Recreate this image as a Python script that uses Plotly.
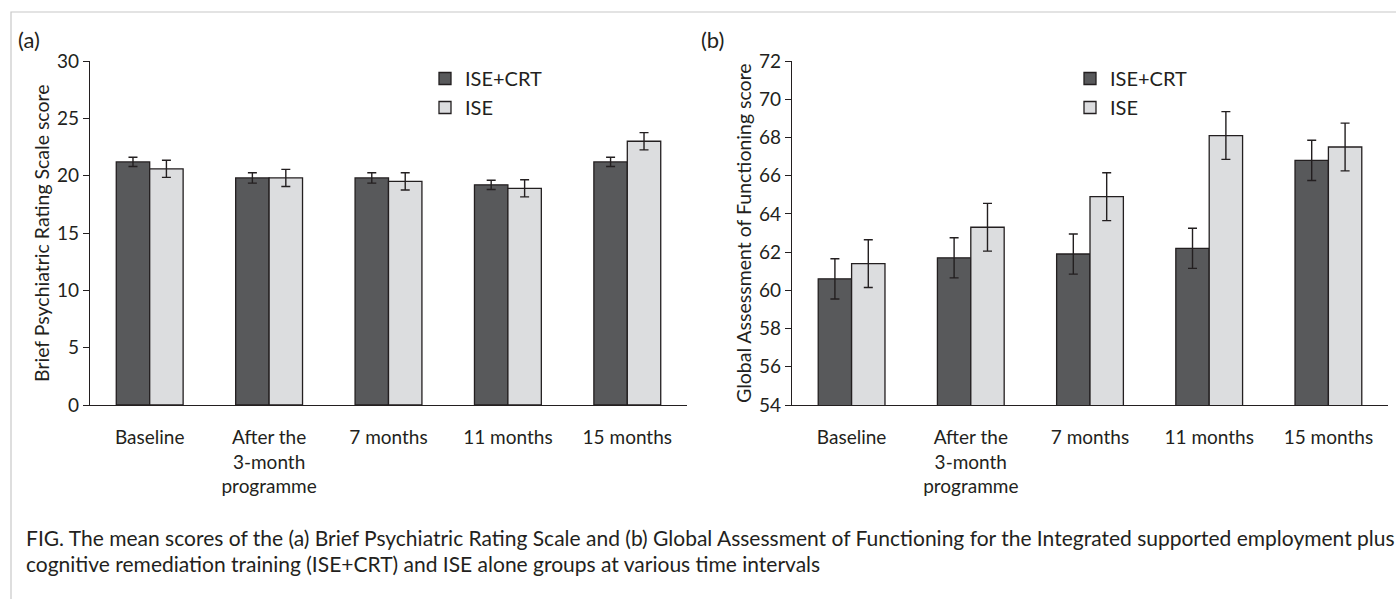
import plotly.graph_objects as go

W, H = 1396, 599

categories = ["Baseline", "After the<br>3-month<br>programme", "7 months", "11 months", "15 months"]

bprs_crt = [21.2, 19.8, 19.8, 19.2, 21.2]
bprs_crt_err = [0.4, 0.45, 0.45, 0.4, 0.4]
bprs_ise = [20.6, 19.8, 19.5, 18.9, 23.0]
bprs_ise_err = [0.75, 0.75, 0.75, 0.75, 0.75]

gaf_crt = [60.6, 61.7, 61.9, 62.2, 66.8]
gaf_crt_err = [1.05, 1.05, 1.05, 1.05, 1.05]
gaf_ise = [61.4, 63.3, 64.9, 68.1, 67.5]
gaf_ise_err = [1.25, 1.25, 1.25, 1.25, 1.25]

series_names = ["ISE+CRT", "ISE"]

FONT = "Lato"
DARK = "#58595b"
LIGHT = "#dcdddf"
EDGE = "#231f20"


def px(x):
    return x / W


def py(y):
    return 1 - y / H


fig = go.Figure()


def add_bars(vals, errs, name, color, xa, ya, legend, show):
    fig.add_trace(go.Bar(
        x=categories, y=vals, name=name,
        marker=dict(color=color, line=dict(color=EDGE, width=1.3)),
        error_y=dict(type="data", array=errs, visible=True, color=EDGE, thickness=1.4, width=4.5),
        xaxis=xa, yaxis=ya, legend=legend, showlegend=show,
    ))


add_bars(bprs_crt, bprs_crt_err, series_names[0], DARK, "x", "y", "legend", True)
add_bars(bprs_ise, bprs_ise_err, series_names[1], LIGHT, "x", "y", "legend", True)
add_bars(gaf_crt, gaf_crt_err, series_names[0], DARK, "x2", "y2", "legend2", True)
add_bars(gaf_ise, gaf_ise_err, series_names[1], LIGHT, "x2", "y2", "legend2", True)

ydom = [py(405), py(61)]

xcommon = dict(showline=True, linecolor=EDGE, linewidth=1.2, ticks="", showgrid=False,
               zeroline=False, tickfont=dict(family=FONT, size=19, color="#231f20"),
               ticklabelstandoff=15, automargin=False)
ycommon = dict(showline=True, linecolor=EDGE, linewidth=1.2, ticks="outside", ticklen=6,
               tickcolor=EDGE, tickwidth=1.2, showgrid=False, zeroline=False,
               tickfont=dict(family=FONT, size=19, color="#231f20"), automargin=False)

legcommon = dict(font=dict(family=FONT, size=20, color="#231f20"), bgcolor="rgba(0,0,0,0)",
                 xanchor="left", yanchor="top", traceorder="normal", itemwidth=30)

fig.update_layout(
    width=W, height=H,
    margin=dict(l=0, r=0, t=0, b=0),
    paper_bgcolor="white", plot_bgcolor="white",
    barmode="group", bargap=0.44, bargroupgap=0,
    xaxis=dict(domain=[px(90), px(687)], anchor="y", **xcommon),
    yaxis=dict(domain=ydom, anchor="x", range=[0, 30], dtick=5, **ycommon),
    xaxis2=dict(domain=[px(792), px(1388)], anchor="y2", **xcommon),
    yaxis2=dict(domain=ydom, anchor="x2", range=[54, 72], dtick=2, **ycommon),
    legend=dict(x=px(425), y=py(59), **legcommon),
    legend2=dict(x=px(1070), y=py(59), **legcommon),
    showlegend=True,
)

annots = [
    dict(text="(a)", x=px(16), y=py(40), xanchor="left", yanchor="middle", font=dict(size=22)),
    dict(text="(b)", x=px(699), y=py(40), xanchor="left", yanchor="middle", font=dict(size=22)),
    dict(text="Brief Psychiatric Rating Scale score", x=px(41), y=py(233), xanchor="center",
         yanchor="middle", textangle=-90, font=dict(size=19.5)),
    dict(text="Global Assessment of Functioning score", x=px(743), y=py(233), xanchor="center",
         yanchor="middle", textangle=-90, font=dict(size=19.5)),
    dict(text="FIG. The mean scores of the (a) Brief Psychiatric Rating Scale and (b) Global Assessment of "
              "Functioning for the Integrated supported employment plus",
         x=px(24), y=py(537), xanchor="left", yanchor="middle", font=dict(size=21)),
    dict(text="cognitive remediation training (ISE+CRT) and ISE alone groups at various time intervals",
         x=px(24), y=py(563), xanchor="left", yanchor="middle", font=dict(size=21)),
]
for a in annots:
    a.update(xref="paper", yref="paper", showarrow=False)
    a["font"].update(family=FONT, color="#231f20")
    fig.add_annotation(**a)

fig.add_shape(type="rect", xref="paper", yref="paper", x0=px(11), x1=1.02, y0=-0.02, y1=py(12),
              line=dict(color="#c8c8c8", width=1.2), fillcolor="rgba(0,0,0,0)", layer="below")

fig.write_html("out.html", config={"displayModeBar": False},
               post_script="document.body.style.margin='0';document.body.style.overflow='hidden';")
